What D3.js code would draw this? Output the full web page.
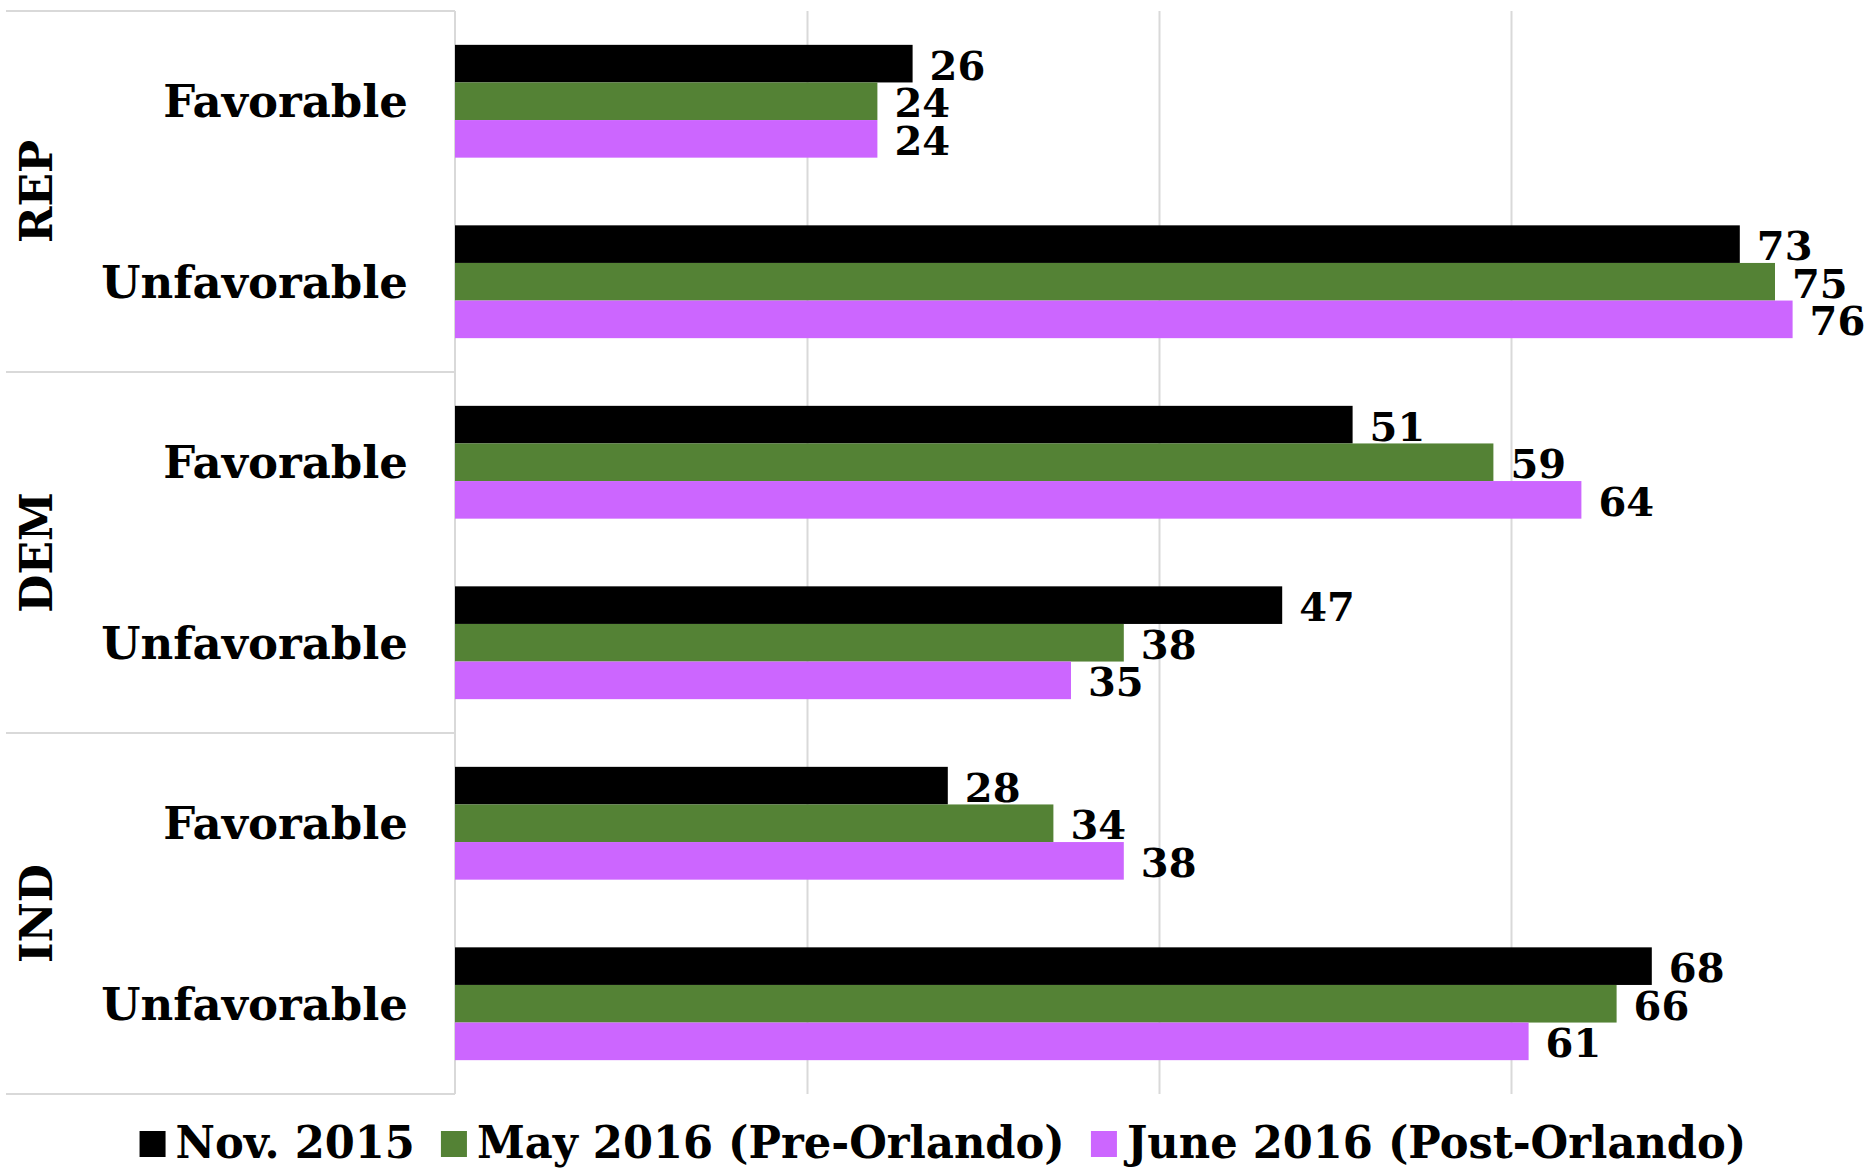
<!DOCTYPE html>
<html>
<head>
<meta charset="utf-8">
<script src="https://cdn.jsdelivr.net/npm/d3@7"></script>
<style>
  body { margin: 0; background: #fff; }
  text { font-family: "DejaVu Serif", "Liberation Serif", serif; font-weight: bold; fill: #000; }
</style>
</head>
<body>
<div id="chart"></div>
<script>
// categories, top to bottom
var parties = ["REP", "DEM", "IND"];
var answers = ["Favorable", "Unfavorable"];
var seriesNames = ["Nov. 2015", "May 2016 (Pre-Orlando)", "June 2016 (Post-Orlando)"];
var seriesColors = ["#000000", "#548235", "#cc66ff"];

var nov2015  = [26, 73, 51, 47, 28, 68];
var may2016  = [24, 75, 59, 38, 34, 66];
var june2016 = [24, 76, 64, 35, 38, 61];

function drawChart() {
    var width = 1864,
        height = 1172,
        left = 455,
        top = 11,
        bottom = 1094;

    var rows = [];
    parties.forEach(function(p) {
        answers.forEach(function(a) {
            rows.push(p + "|" + a);
        });
    });

    var values = [nov2015, may2016, june2016];

    var x = d3.scaleLinear().domain([0, 80]).range([left, width - 1]);
    var y = d3.scaleBand().domain(rows).range([top, bottom]);
    var yInner = d3.scaleBand().domain(d3.range(seriesNames.length))
                    .range([0, y.bandwidth()])
                    .paddingOuter(0.9);

    var svg = d3.select("#chart")
                .append("svg")
                .attr("width", width)
                .attr("height", height);

    // gridlines
    svg.append("g")
        .attr("transform", "translate(0," + top + ")")
        .call(d3.axisBottom(x).tickValues([20, 40, 60]).tickSize(bottom - top).tickFormat(""))
        .call(function(g) {
            g.select(".domain").remove();
            g.selectAll("line").attr("stroke", "#d9d9d9").attr("stroke-width", 2);
        });

    // category axis lines
    var axisLines = svg.append("g").attr("stroke", "#d9d9d9").attr("stroke-width", 2);
    axisLines.append("line")
        .attr("x1", left).attr("x2", left)
        .attr("y1", top).attr("y2", bottom);
    var seps = [top];
    parties.forEach(function(p) {
        seps.push(y(p + "|" + answers[answers.length - 1]) + y.bandwidth());
    });
    axisLines.selectAll(".sep")
        .data(seps)
        .enter()
        .append("line")
        .attr("x1", 6).attr("x2", left)
        .attr("y1", function(d) { return d; })
        .attr("y2", function(d) { return d; });

    // bars
    var rowG = svg.append("g")
        .selectAll("g")
        .data(rows)
        .enter()
        .append("g")
        .attr("transform", function(d) { return "translate(0," + y(d) + ")"; });

    rowG.each(function(r, ri) {
        var g = d3.select(this);
        var data = values.map(function(v, si) { return { s: si, v: v[ri] }; });

        g.selectAll("rect")
            .data(data)
            .enter()
            .append("rect")
            .attr("x", x(0))
            .attr("y", function(d) { return yInner(d.s); })
            .attr("width", function(d) { return x(d.v) - x(0); })
            .attr("height", yInner.bandwidth())
            .attr("fill", function(d) { return seriesColors[d.s]; });

        g.selectAll(".val")
            .data(data)
            .enter()
            .append("text")
            .attr("class", "val")
            .attr("x", function(d) { return x(d.v) + 17; })
            .attr("y", function(d) { return yInner(d.s) + yInner.bandwidth() / 2 + 16; })
            .attr("font-size", 40)
            .text(function(d) { return d.v; });
    });

    // answer labels
    svg.append("g")
        .selectAll("text")
        .data(rows)
        .enter()
        .append("text")
        .attr("x", 408)
        .attr("y", function(d) { return y(d) + y.bandwidth() / 2 + 16; })
        .attr("text-anchor", "end")
        .attr("font-size", 45)
        .text(function(d) { return d.split("|")[1]; });

    // party labels
    svg.append("g")
        .selectAll("text")
        .data(parties)
        .enter()
        .append("text")
        .attr("transform", function(p) {
            var cy = y(p + "|" + answers[answers.length - 1]);
            return "translate(52," + cy + ") rotate(-90)";
        })
        .attr("text-anchor", "middle")
        .attr("font-size", 44)
        .text(function(p) { return p; });

    // legend
    var legend = svg.append("g");
    var cursor = 0;
    var sx = 0.96;
    seriesNames.forEach(function(name, i) {
        legend.append("rect")
            .attr("x", cursor)
            .attr("y", -27)
            .attr("width", 26 / sx)
            .attr("height", 26)
            .attr("fill", seriesColors[i]);
        var t = legend.append("text")
            .attr("x", cursor + 36 / sx)
            .attr("y", 0)
            .attr("font-size", 45)
            .text(name);
        cursor += 36 / sx + t.node().getComputedTextLength() + 26 / sx;
    });
    var legendWidth = (cursor - 26 / sx) * sx;
    legend.attr("transform", "translate(" + (943 - legendWidth / 2) + ",1158) scale(" + sx + ",1)");
}

drawChart();
</script>
</body>
</html>
